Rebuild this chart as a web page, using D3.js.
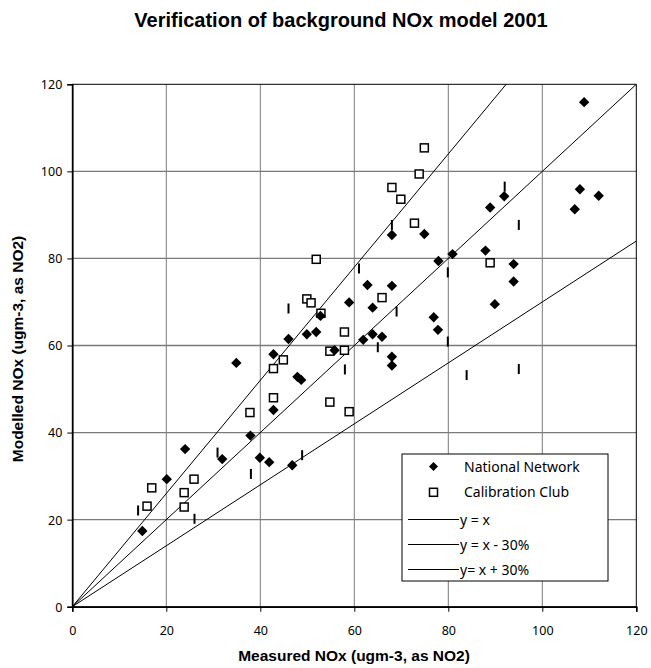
<!DOCTYPE html>
<html>
<head>
<meta charset="utf-8">
<script src="https://cdn.jsdelivr.net/npm/d3@7"></script>
<style>
  html, body { margin: 0; padding: 0; background: #fff; }
  svg { display: block; }
</style>
</head>
<body>
<svg id="chart" width="651" height="668"></svg>
<script>
// Measured vs modelled background NOx, 2001 (ugm-3, as NO2)
const nationalMeasured = [14.9, 20.1, 24.0, 31.9, 34.9, 37.9, 39.9, 41.9, 42.8, 42.8, 46.0, 46.8, 47.9, 48.7, 49.9, 51.9, 52.8, 55.8, 58.9, 61.9, 62.8, 63.9, 63.9, 65.9, 68.0, 68.0, 68.0, 68.0, 74.9, 76.9, 77.8, 77.9, 80.9, 87.9, 88.9, 89.9, 91.9, 93.9, 93.9, 106.9, 108.0, 108.9, 112.0];
const nationalModelled = [17.4, 29.3, 36.2, 33.9, 56.0, 39.3, 34.2, 33.2, 58.0, 45.2, 61.5, 32.5, 52.8, 52.1, 62.6, 63.1, 66.8, 58.9, 69.9, 61.3, 73.9, 68.7, 62.6, 62.0, 73.7, 57.4, 55.4, 85.4, 85.6, 66.5, 63.6, 79.4, 81.0, 81.8, 91.7, 69.5, 94.3, 78.7, 74.7, 91.3, 95.9, 115.9, 94.4];

const clubMeasured = [15.9, 16.9, 23.8, 23.8, 25.9, 37.8, 42.8, 42.8, 44.9, 49.9, 50.8, 51.9, 52.9, 54.8, 54.8, 57.9, 57.9, 58.9, 65.9, 68.0, 69.9, 72.8, 73.8, 74.9, 88.9];
const clubModelled = [23.1, 27.3, 26.2, 22.9, 29.3, 44.6, 54.7, 48.0, 56.7, 70.7, 69.8, 79.8, 67.4, 58.7, 47.0, 63.1, 58.9, 44.8, 71.0, 96.3, 93.6, 88.1, 99.4, 105.4, 79.0];

const otherMeasured = [14.0, 26.0, 30.9, 38.0, 46.0, 48.9, 58.0, 61.0, 65.0, 68.0, 69.0, 79.9, 79.9, 83.9, 92.0, 95.0, 95.0];
const otherModelled = [22.1, 20.2, 35.4, 30.5, 68.5, 34.8, 54.5, 77.7, 59.6, 87.7, 67.8, 76.8, 60.9, 53.2, 96.5, 87.7, 54.6];

const axisTicks = [0, 20, 40, 60, 80, 100, 120];

// Reference lines: ratio of modelled to measured
const refLabels = ["y = x", "y = x - 30%", "y= x + 30%"];
const refRatios = [1.0, 0.7, 1.3];

const svg = d3.select("#chart");
const plotLeft = 72.3, plotRight = 636.3, plotTop = 84.3, plotBottom = 606.7;

const x = d3.scaleLinear().domain([0, 120]).range([plotLeft, plotRight]);
const y = d3.scaleLinear().domain([0, 120]).range([plotBottom, plotTop]);

const labelFont = "'Noto Sans', 'Open Sans', sans-serif";
const boldFont = "'Liberation Sans', Arial, sans-serif";

// Title
svg.append("text")
  .attr("x", 341).attr("y", 27)
  .attr("text-anchor", "middle")
  .attr("font-family", boldFont).attr("font-weight", "bold")
  .attr("font-size", 20)
  .text("Verification of background NOx model 2001");

// Gridlines
const grid = svg.append("g");
grid.selectAll("line.gx").data(axisTicks.slice(1, -1)).join("line")
  .attr("x1", d => x(d)).attr("x2", d => x(d))
  .attr("y1", plotTop).attr("y2", plotBottom)
  .attr("stroke", "#7a7a7a").attr("stroke-width", 1);
grid.selectAll("line.gy").data(axisTicks.slice(1, -1)).join("line")
  .attr("y1", d => y(d)).attr("y2", d => y(d))
  .attr("x1", plotLeft).attr("x2", plotRight)
  .attr("stroke", "#7a7a7a").attr("stroke-width", 1.3);

// Plot border
svg.append("rect")
  .attr("x", plotLeft).attr("y", plotTop)
  .attr("width", plotRight - plotLeft).attr("height", plotBottom - plotTop)
  .attr("fill", "none").attr("stroke", "#000").attr("stroke-width", 1);

// Axes
const xAxis = d3.axisBottom(x).tickValues(axisTicks).tickSize(5).tickPadding(14);
const yAxis = d3.axisLeft(y).tickValues(axisTicks).tickSize(5).tickPadding(5);

const gx = svg.append("g").attr("transform", `translate(0,${plotBottom})`).call(xAxis);
const gy = svg.append("g").attr("transform", `translate(${plotLeft},0)`).call(yAxis);
[gx, gy].forEach(g => {
  g.select(".domain").attr("stroke", "#000").attr("stroke-width", 1.6);
  g.selectAll(".tick line").attr("stroke", "#000").attr("stroke-width", 1);
  g.selectAll(".tick text")
    .attr("font-family", labelFont).attr("font-size", 12.5).attr("fill", "#000");
});
gy.selectAll(".tick text").attr("dy", "0.35em");

// Axis titles
svg.append("text")
  .attr("x", 354).attr("y", 661)
  .attr("text-anchor", "middle")
  .attr("font-family", boldFont).attr("font-weight", "bold").attr("font-size", 15.5)
  .text("Measured NOx (ugm-3, as NO2)");
svg.append("text")
  .attr("transform", "translate(23,349) rotate(-90)")
  .attr("text-anchor", "middle")
  .attr("font-family", boldFont).attr("font-weight", "bold").attr("font-size", 15.5)
  .text("Modelled NOx (ugm-3, as NO2)");

// Clip for reference lines
svg.append("clipPath").attr("id", "plotClip")
  .append("rect").attr("x", plotLeft).attr("y", plotTop)
  .attr("width", plotRight - plotLeft).attr("height", plotBottom - plotTop);

svg.append("g").attr("clip-path", "url(#plotClip)")
  .selectAll("line").data(refRatios).join("line")
  .attr("x1", x(0)).attr("y1", y(0))
  .attr("x2", x(120)).attr("y2", r => y(120 * r))
  .attr("stroke", "#000").attr("stroke-width", 1);

// Diamond path centred on origin
const diamond = s => `M0,${-s}L${s},0L0,${s}L${-s},0Z`;

// Other sites: short vertical bar markers
svg.append("g").selectAll("line").data(d3.range(otherMeasured.length)).join("line")
  .attr("x1", i => x(otherMeasured[i])).attr("x2", i => x(otherMeasured[i]))
  .attr("y1", i => y(otherModelled[i]) - 5).attr("y2", i => y(otherModelled[i]) + 5)
  .attr("stroke", "#000").attr("stroke-width", 2);

// Calibration Club: open squares
svg.append("g").selectAll("rect").data(d3.range(clubMeasured.length)).join("rect")
  .attr("x", i => x(clubMeasured[i]) - 4).attr("y", i => y(clubModelled[i]) - 4)
  .attr("width", 8).attr("height", 8)
  .attr("fill", "#fff").attr("stroke", "#000").attr("stroke-width", 1.5);

// National Network: filled diamonds
svg.append("g").selectAll("path").data(d3.range(nationalMeasured.length)).join("path")
  .attr("transform", i => `translate(${x(nationalMeasured[i])},${y(nationalModelled[i])})`)
  .attr("d", diamond(5.2))
  .attr("fill", "#000");

// Legend
const legend = svg.append("g");
legend.append("rect")
  .attr("x", 402).attr("y", 454).attr("width", 206).attr("height", 127)
  .attr("fill", "#fff").attr("stroke", "#000").attr("stroke-width", 1);

const rowY = [466.5, 492.3, 519.5, 544.5, 569.5];
const legendText = ["National Network", "Calibration Club"].concat(refLabels);
legend.append("path")
  .attr("transform", `translate(433.5,${rowY[0]})`)
  .attr("d", diamond(4.5)).attr("fill", "#000");
legend.append("rect")
  .attr("x", 429.5).attr("y", rowY[1] - 4).attr("width", 8).attr("height", 8)
  .attr("fill", "#fff").attr("stroke", "#000").attr("stroke-width", 1.5);
legend.selectAll("line").data(refRatios).join("line")
  .attr("x1", 408).attr("x2", 459)
  .attr("y1", (d, i) => rowY[i + 2]).attr("y2", (d, i) => rowY[i + 2])
  .attr("stroke", "#000").attr("stroke-width", 1);
legend.selectAll("text").data(legendText).join("text")
  .attr("x", (d, i) => i < 2 ? 464 : 460)
  .attr("y", (d, i) => rowY[i])
  .attr("dy", "0.36em")
  .attr("font-family", labelFont).attr("font-size", 14)
  .text(d => d);
</script>
</body>
</html>
